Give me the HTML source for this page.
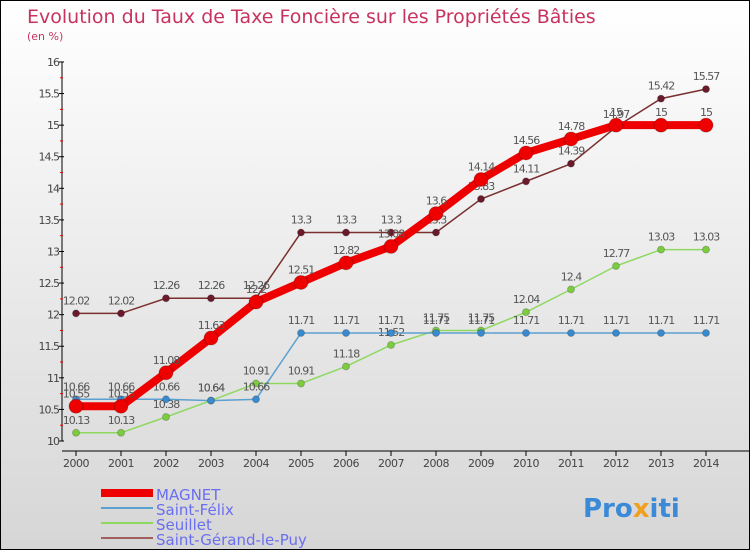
<!DOCTYPE html>
<html><head><meta charset="utf-8"><style>
html,body{margin:0;padding:0}
body{width:750px;height:550px;overflow:hidden;font-family:"DejaVu Sans","Liberation Sans",sans-serif}
#wrap{position:relative;width:748px;height:548px;border:1px solid #000;background:linear-gradient(#fff,#d6d6d6)}
</style></head><body>
<div id="wrap">
<svg id="svg" width="748" height="548" xmlns="http://www.w3.org/2000/svg">
<text x="26" y="22" font-size="19" fill="#c8325f">Evolution du Taux de Taxe Foncière sur les Propriétés Bâties</text>
<text x="26" y="39" font-size="11" fill="#c8325f">(en %)</text>
<g id="axes"></g><g id="series"></g>
<g>
<line x1="100" y1="492" x2="152" y2="492" stroke="#e00" stroke-width="8"/>
<text x="155" y="499" font-size="15" fill="#6a6ef0">MAGNET</text>
<line x1="100" y1="507" x2="152" y2="507" stroke="#5aa0d0" stroke-width="2"/>
<text x="155" y="514" font-size="15" fill="#6a6ef0">Saint-Félix</text>
<line x1="100" y1="522" x2="152" y2="522" stroke="#8ed860" stroke-width="2"/>
<text x="155" y="529" font-size="15" fill="#6a6ef0">Seuillet</text>
<line x1="100" y1="537" x2="152" y2="537" stroke="#a06060" stroke-width="2"/>
<text x="155" y="544" font-size="15" fill="#6a6ef0">Saint-Gérand-le-Puy</text>
</g>
<text x="582" y="516" font-size="26" font-weight="bold" fill="#3a8ad8">Pro<tspan fill="#f0a020">x</tspan>iti</text>
</svg>
</div>
<script>
const years=[2000,2001,2002,2003,2004,2005,2006,2007,2008,2009,2010,2011,2012,2013,2014];
const yTicks=[10,10.5,11,11.5,12,12.5,13,13.5,14,14.5,15,15.5,16];
const magnet=[10.55,10.55,11.08,11.63,12.2,12.51,12.82,13.08,13.6,14.14,14.56,14.78,15,15,15];
const saintFelix=[10.66,10.66,10.66,10.64,10.66,11.71,11.71,11.71,11.71,11.71,11.71,11.71,11.71,11.71,11.71];
const seuillet=[10.13,10.13,10.38,10.64,10.91,10.91,11.18,11.52,11.75,11.75,12.04,12.4,12.77,13.03,13.03];
const saintGerand=[12.02,12.02,12.26,12.26,12.26,13.3,13.3,13.3,13.3,13.83,14.11,14.39,14.97,15.42,15.57];
const NS="http://www.w3.org/2000/svg";
const xS=i=>75+i*45, yS=v=>440-(v-10)*63.17;
function mk(t,a,p){const e=document.createElementNS(NS,t);for(const k in a)e.setAttribute(k,a[k]);p.appendChild(e);return e;}
const ax=document.getElementById('axes');
let e=mk('line',{x1:61,y1:61,x2:61,y2:440,stroke:'#000'},ax);

e=mk('line',{x1:61,y1:450,x2:748,y2:450,stroke:'#000'},ax);

yTicks.forEach((v,i)=>{const y=yS(v);
 mk('line',{x1:58,y1:y,x2:63,y2:y,stroke:'#000'},ax);
 if(i<yTicks.length-1)mk('line',{x1:59,y1:yS(v+0.25),x2:62,y2:yS(v+0.25),stroke:'#e00'},ax);
 const t=mk('text',{x:58,y:y+4,'font-size':11,fill:'#444','text-anchor':'end','letter-spacing':'-1'},ax);t.textContent=String(v);
 });
years.forEach((yr,i)=>{mk('line',{x1:xS(i),y1:450,x2:xS(i),y2:455,stroke:'#000'},ax);
 const t=mk('text',{x:xS(i),y:466,'font-size':11,fill:'#444','text-anchor':'middle','letter-spacing':'-0.5'},ax);t.textContent=yr;
 });
const sg=document.getElementById('series');
function series(d,name,col,w,r,fill){
 const g=mk('g',{},sg);
 mk('polyline',{points:d.map((v,i)=>xS(i)+','+yS(v)).join(' '),fill:'none',stroke:col,'stroke-width':w},g);
 d.forEach((v,i)=>{const c=mk('circle',{cx:xS(i),cy:yS(v),r:r,fill:fill,stroke:'#0003'},g);
  
  const t=mk('text',{x:xS(i),y:yS(v)-9,'font-size':11,fill:'#555','text-anchor':'middle','letter-spacing':'-1'},g);t.textContent=String(v);});
}
series(saintGerand,'saint-gerand-line','#7a3030',1.5,3.5,'#6a1a2a');
series(seuillet,'seuillet-line','#8ed860',1.5,3.5,'#7ccc40');
series(saintFelix,'saint-felix-line','#5aa0d0',1.5,3.5,'#3a8ad0');
series(magnet,'magnet-line','#e00',8,7,'#e00');
</script>
</body></html>
